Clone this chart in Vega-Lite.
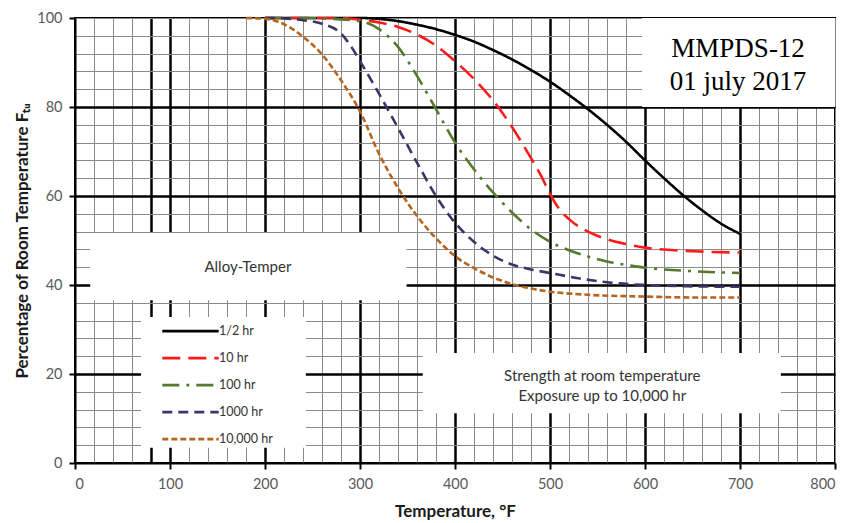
{
  "$schema": "https://vega.github.io/schema/vega-lite/v6.json",
  "width": 760,
  "height": 445,
  "autosize": {"type": "none"},
  "padding": {"left": 75, "top": 18, "right": 16, "bottom": 60},
  "background": "white",
  "config": {
    "font": "Lato",
    "view": {"stroke": "black", "strokeWidth": 2},
    "axis": {"labelFont": "Lato", "titleFont": "Lato"}
  },
  "resolve": {"axis": {"x": "independent", "y": "independent"}},
  "layer": [
    {
      "data": {"values": [{}]},
      "mark": {"type": "rect", "fill": "white"},
      "encoding": {
        "x": {"datum": 597, "type": "quantitative", "scale": {"domain": [0, 800], "nice": false},
          "axis": {"orient": "top", "values": [0,20,40,60,80,100,120,140,160,180,200,220,240,260,280,300,320,340,360,380,400,420,440,460,480,500,520,540,560,580,600,620,640,660,680,700,720,740,760,780,800], "grid": true, "gridColor": "#8a8a8a", "gridWidth": 1, "labels": false, "ticks": false, "domain": false, "title": null, "minExtent": 0, "maxExtent": 0}},
        "x2": {"datum": 800},
        "y": {"datum": 80, "type": "quantitative", "scale": {"domain": [0, 100], "nice": false},
          "axis": {"orient": "right", "values": [0,4,8,12,16,20,24,28,32,36,40,44,48,52,56,60,64,68,72,76,80,84,88,92,96,100], "grid": true, "gridColor": "#8a8a8a", "gridWidth": 1, "labels": false, "ticks": false, "domain": false, "title": null, "minExtent": 0, "maxExtent": 0}},
        "y2": {"datum": 100}
      }
    },
    {
      "data": {"values": [{}]},
      "mark": {"type": "rect", "fill": "white"},
      "encoding": {
        "x": {"datum": 16, "type": "quantitative", "scale": {"domain": [0, 800], "nice": false},
          "axis": {"orient": "top", "values": [80,100,200,300,400,500,600,700], "grid": true, "gridColor": "black", "gridWidth": 2.5, "labels": false, "ticks": false, "domain": false, "title": null, "minExtent": 0, "maxExtent": 0}},
        "x2": {"datum": 349},
        "y": {"datum": 36.6, "type": "quantitative", "scale": {"domain": [0, 100], "nice": false},
          "axis": {"orient": "right", "values": [20,40,60,80], "grid": true, "gridColor": "black", "gridWidth": 2.5, "labels": false, "ticks": false, "domain": false, "title": null, "minExtent": 0, "maxExtent": 0}},
        "y2": {"datum": 51.7}
      }
    },
    {
      "data": {"values": [{}]},
      "mark": {"type": "rect", "fill": "white"},
      "encoding": {
        "x": {"datum": 69.5, "type": "quantitative", "scale": {"domain": [0, 800], "nice": false}, "axis": null},
        "x2": {"datum": 243},
        "y": {"datum": 3.4, "type": "quantitative", "scale": {"domain": [0, 100], "nice": false}, "axis": null},
        "y2": {"datum": 32.8}
      }
    },
    {
      "data": {"values": [{}]},
      "mark": {"type": "rect", "fill": "white"},
      "encoding": {
        "x": {"datum": 366, "type": "quantitative", "scale": {"domain": [0, 800], "nice": false}, "axis": null},
        "x2": {"datum": 743},
        "y": {"datum": 11.2, "type": "quantitative", "scale": {"domain": [0, 100], "nice": false}, "axis": null},
        "y2": {"datum": 24.7}
      }
    },
    {
      "data": {"values": [{}]},
      "mark": {"type": "text", "text": ["MMPDS-12", "01 july 2017"], "font": "Liberation Serif", "fontSize": 27, "lineHeight": 33, "align": "center", "baseline": "middle", "color": "black"},
      "encoding": {
        "x": {"datum": 698, "type": "quantitative", "scale": {"domain": [0, 800], "nice": false}, "axis": null},
        "y": {"datum": 93.0, "type": "quantitative", "scale": {"domain": [0, 100], "nice": false}, "axis": null}
      }
    },
    {
      "data": {"values": [{}]},
      "mark": {"type": "text", "text": "Alloy-Temper", "font": "Lato", "fontSize": 15, "align": "center", "baseline": "middle", "color": "#333333"},
      "encoding": {
        "x": {"datum": 182, "type": "quantitative", "scale": {"domain": [0, 800], "nice": false}, "axis": null},
        "y": {"datum": 44, "type": "quantitative", "scale": {"domain": [0, 100], "nice": false}, "axis": null}
      }
    },
    {
      "data": {"values": [{}]},
      "mark": {"type": "text", "text": ["Strength at room temperature", "Exposure up to 10,000 hr"], "font": "Lato", "fontSize": 15, "lineHeight": 20, "align": "center", "baseline": "middle", "color": "#333333"},
      "encoding": {
        "x": {"datum": 555, "type": "quantitative", "scale": {"domain": [0, 800], "nice": false}, "axis": null},
        "y": {"datum": 19.6, "type": "quantitative", "scale": {"domain": [0, 100], "nice": false}, "axis": null}
      }
    },
    {
      "data": {"values": [
        {"series": "1/2 hr", "T": 200, "P": 100}, {"series": "1/2 hr", "T": 300, "P": 100}, {"series": "1/2 hr", "T": 320, "P": 99.8}, {"series": "1/2 hr", "T": 340, "P": 99.3}, {"series": "1/2 hr", "T": 360, "P": 98.5}, {"series": "1/2 hr", "T": 380, "P": 97.5}, {"series": "1/2 hr", "T": 400, "P": 96.2}, {"series": "1/2 hr", "T": 420, "P": 94.7}, {"series": "1/2 hr", "T": 440, "P": 92.8}, {"series": "1/2 hr", "T": 460, "P": 90.7}, {"series": "1/2 hr", "T": 480, "P": 88.3}, {"series": "1/2 hr", "T": 500, "P": 85.7}, {"series": "1/2 hr", "T": 520, "P": 82.7}, {"series": "1/2 hr", "T": 540, "P": 79.5}, {"series": "1/2 hr", "T": 560, "P": 76}, {"series": "1/2 hr", "T": 580, "P": 72.2}, {"series": "1/2 hr", "T": 600, "P": 68}, {"series": "1/2 hr", "T": 620, "P": 64}, {"series": "1/2 hr", "T": 640, "P": 60.2}, {"series": "1/2 hr", "T": 660, "P": 56.8}, {"series": "1/2 hr", "T": 680, "P": 53.8}, {"series": "1/2 hr", "T": 700, "P": 51.5},
        {"series": "10 hr", "T": 200, "P": 100}, {"series": "10 hr", "T": 280, "P": 100}, {"series": "10 hr", "T": 300, "P": 99.6}, {"series": "10 hr", "T": 320, "P": 99}, {"series": "10 hr", "T": 340, "P": 98}, {"series": "10 hr", "T": 360, "P": 96.3}, {"series": "10 hr", "T": 380, "P": 93.8}, {"series": "10 hr", "T": 400, "P": 90.3}, {"series": "10 hr", "T": 420, "P": 86.3}, {"series": "10 hr", "T": 440, "P": 81.5}, {"series": "10 hr", "T": 460, "P": 75.5}, {"series": "10 hr", "T": 480, "P": 68.5}, {"series": "10 hr", "T": 490, "P": 64.8}, {"series": "10 hr", "T": 500, "P": 60.5}, {"series": "10 hr", "T": 510, "P": 57}, {"series": "10 hr", "T": 520, "P": 54.8}, {"series": "10 hr", "T": 540, "P": 52}, {"series": "10 hr", "T": 560, "P": 50.3}, {"series": "10 hr", "T": 580, "P": 49.2}, {"series": "10 hr", "T": 600, "P": 48.4}, {"series": "10 hr", "T": 650, "P": 47.6}, {"series": "10 hr", "T": 700, "P": 47.3},
        {"series": "100 hr", "T": 200, "P": 100}, {"series": "100 hr", "T": 240, "P": 100}, {"series": "100 hr", "T": 260, "P": 99.9}, {"series": "100 hr", "T": 280, "P": 99.7}, {"series": "100 hr", "T": 300, "P": 99.3}, {"series": "100 hr", "T": 320, "P": 97.5}, {"series": "100 hr", "T": 340, "P": 93.5}, {"series": "100 hr", "T": 360, "P": 87}, {"series": "100 hr", "T": 380, "P": 79.5}, {"series": "100 hr", "T": 400, "P": 72}, {"series": "100 hr", "T": 420, "P": 66}, {"series": "100 hr", "T": 440, "P": 60.8}, {"series": "100 hr", "T": 460, "P": 56.3}, {"series": "100 hr", "T": 480, "P": 52.5}, {"series": "100 hr", "T": 500, "P": 49.7}, {"series": "100 hr", "T": 520, "P": 47.8}, {"series": "100 hr", "T": 540, "P": 46.4}, {"series": "100 hr", "T": 560, "P": 45.3}, {"series": "100 hr", "T": 580, "P": 44.5}, {"series": "100 hr", "T": 600, "P": 43.9}, {"series": "100 hr", "T": 650, "P": 43.1}, {"series": "100 hr", "T": 700, "P": 42.7},
        {"series": "1000 hr", "T": 200, "P": 100}, {"series": "1000 hr", "T": 220, "P": 99.9}, {"series": "1000 hr", "T": 240, "P": 99.5}, {"series": "1000 hr", "T": 260, "P": 98.7}, {"series": "1000 hr", "T": 280, "P": 96.5}, {"series": "1000 hr", "T": 290, "P": 93.8}, {"series": "1000 hr", "T": 300, "P": 90.3}, {"series": "1000 hr", "T": 320, "P": 83}, {"series": "1000 hr", "T": 340, "P": 75.3}, {"series": "1000 hr", "T": 360, "P": 67.5}, {"series": "1000 hr", "T": 380, "P": 60}, {"series": "1000 hr", "T": 400, "P": 54}, {"series": "1000 hr", "T": 420, "P": 49.7}, {"series": "1000 hr", "T": 440, "P": 46.6}, {"series": "1000 hr", "T": 460, "P": 44.6}, {"series": "1000 hr", "T": 480, "P": 43.5}, {"series": "1000 hr", "T": 500, "P": 42.7}, {"series": "1000 hr", "T": 530, "P": 41.5}, {"series": "1000 hr", "T": 560, "P": 40.6}, {"series": "1000 hr", "T": 600, "P": 40}, {"series": "1000 hr", "T": 650, "P": 39.7}, {"series": "1000 hr", "T": 700, "P": 39.6},
        {"series": "10,000 hr", "T": 180, "P": 100}, {"series": "10,000 hr", "T": 200, "P": 99.8}, {"series": "10,000 hr", "T": 220, "P": 98.6}, {"series": "10,000 hr", "T": 240, "P": 95.8}, {"series": "10,000 hr", "T": 260, "P": 91.8}, {"series": "10,000 hr", "T": 280, "P": 86}, {"series": "10,000 hr", "T": 300, "P": 79}, {"series": "10,000 hr", "T": 320, "P": 69.5}, {"series": "10,000 hr", "T": 340, "P": 61.8}, {"series": "10,000 hr", "T": 360, "P": 55.5}, {"series": "10,000 hr", "T": 380, "P": 50.5}, {"series": "10,000 hr", "T": 400, "P": 46.5}, {"series": "10,000 hr", "T": 420, "P": 43.8}, {"series": "10,000 hr", "T": 440, "P": 41.7}, {"series": "10,000 hr", "T": 460, "P": 40.2}, {"series": "10,000 hr", "T": 480, "P": 39.2}, {"series": "10,000 hr", "T": 500, "P": 38.5}, {"series": "10,000 hr", "T": 540, "P": 37.8}, {"series": "10,000 hr", "T": 600, "P": 37.4}, {"series": "10,000 hr", "T": 650, "P": 37.2}, {"series": "10,000 hr", "T": 700, "P": 37.2}
      ]},
      "mark": {"type": "line", "interpolate": "monotone", "strokeWidth": 2.6},
      "encoding": {
        "x": {"field": "T", "type": "quantitative", "scale": {"domain": [0, 800], "nice": false},
          "axis": {"orient": "bottom", "values": [0,100,200,300,400,500,600,700,800], "grid": false, "domain": true, "domainColor": "black", "domainWidth": 2, "ticks": true, "tickColor": "black", "tickWidth": 2, "tickSize": 6, "labelFontSize": 14.5, "labelColor": "#595959", "labelPadding": 8, "title": "Temperature, °F", "titleFontSize": 17, "titleFontWeight": "bold", "titleColor": "#1a1a1a", "titlePadding": 13, "zindex": 1}},
        "y": {"field": "P", "type": "quantitative", "scale": {"domain": [0, 100], "nice": false},
          "axis": {"orient": "left", "values": [0,20,40,60,80,100], "grid": false, "domain": true, "domainColor": "black", "domainWidth": 2, "ticks": true, "tickColor": "black", "tickWidth": 2, "tickSize": 6, "labelFontSize": 14.5, "labelColor": "#595959", "labelPadding": 7, "title": "Percentage of Room Temperature Fₜᵤ", "titleFontSize": 17, "titleFontWeight": "bold", "titleColor": "#1a1a1a", "titlePadding": 5, "zindex": 1}},
        "color": {"field": "series", "type": "nominal",
          "scale": {"domain": ["1/2 hr", "10 hr", "100 hr", "1000 hr", "10,000 hr"], "range": ["#000000", "#ff1a1a", "#557a2e", "#3d3468", "#b5651d"]},
          "legend": {"orient": "none", "legendX": 86, "legendY": 300, "title": null, "symbolType": "stroke", "symbolSize": 3180, "symbolStrokeWidth": 2.6, "clipHeight": 26.3, "rowPadding": 0, "labelFontSize": 12.5, "labelColor": "#333333", "labelOffset": -1, "padding": 0}},
        "strokeDash": {"field": "series", "type": "nominal",
          "scale": {"domain": ["1/2 hr", "10 hr", "100 hr", "1000 hr", "10,000 hr"], "range": [[1, 0], [18, 8], [17, 7, 3, 7], [10, 6], [6, 3]]},
          "legend": {"orient": "none", "legendX": 86, "legendY": 300, "title": null, "symbolType": "stroke", "symbolSize": 3180, "symbolStrokeWidth": 2.6, "clipHeight": 26.3, "rowPadding": 0, "labelFontSize": 12.5, "labelColor": "#333333", "labelOffset": -1, "padding": 0}}
      }
    }
  ]
}
